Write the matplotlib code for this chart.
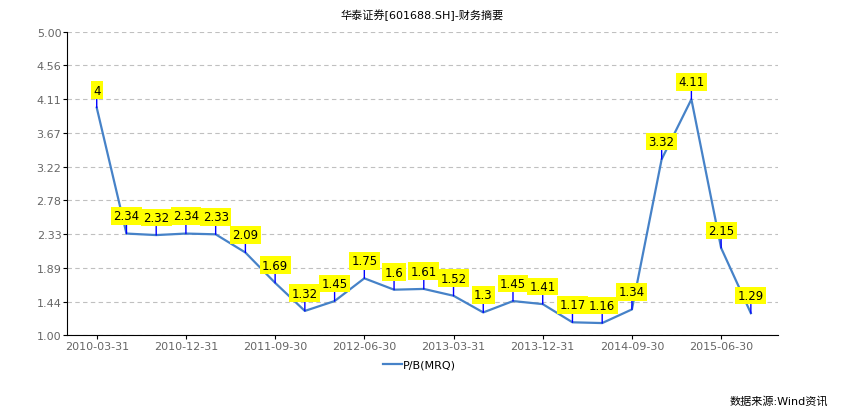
import numpy as np
import matplotlib
matplotlib.use("Agg")
import matplotlib.pyplot as plt

plt.rcParams['font.family'] = ['DejaVu Sans', 'Noto Sans CJK SC']

dates = ['2010-03-31', '2010-06-30', '2010-09-30', '2010-12-31',
         '2011-03-31', '2011-06-30', '2011-09-30', '2011-12-31',
         '2012-03-31', '2012-06-30', '2012-09-30', '2012-12-31',
         '2013-03-31', '2013-06-30', '2013-09-30', '2013-12-31',
         '2014-03-31', '2014-06-30', '2014-09-30', '2014-12-31',
         '2015-03-31', '2015-06-30', '2015-09-30']
pb = [4.00, 2.34, 2.32, 2.34, 2.33, 2.09, 1.69, 1.32, 1.45, 1.75, 1.60, 1.61,
      1.52, 1.30, 1.45, 1.41, 1.17, 1.16, 1.34, 3.32, 4.11, 2.15, 1.29]
pb_labels = ['4', '2.34', '2.32', '2.34', '2.33', '2.09', '1.69', '1.32', '1.45',
             '1.75', '1.6', '1.61', '1.52', '1.3', '1.45', '1.41', '1.17', '1.16',
             '1.34', '3.32', '4.11', '2.15', '1.29']
y_ticks = [1.00, 1.44, 1.89, 2.33, 2.78, 3.22, 3.67, 4.11, 4.56, 5.00]

fig = plt.figure(figsize=(8.48, 4.10), dpi=100)
ax = fig.add_axes([0.079, 0.180, 0.838, 0.740])

x = np.arange(len(dates))
ax.plot(x, pb, color='#4682c8', lw=1.6, label='P/B(MRQ)', zorder=3)

# value labels: yellow box with a short blue stem to the point
for i, (v, s) in enumerate(zip(pb, pb_labels)):
    ax.annotate(s, (i, v), xytext=(0, 8), textcoords='offset points',
                ha='center', va='bottom', fontsize=8.5, color='black',
                bbox=dict(boxstyle='square,pad=0.2', fc='#ffff00', ec='none'),
                arrowprops=dict(arrowstyle='-', color='#0000ff', lw=1,
                                shrinkA=0, shrinkB=0),
                zorder=4)

ax.set_xlim(-1, 22.9)
ax.set_ylim(1.0, 5.0)
ax.set_yticks(y_ticks)
ax.set_yticklabels([f'{t:.2f}' for t in y_ticks])
ax.set_xticks(x[::3])
ax.set_xticklabels(dates[::3])
ax.tick_params(labelsize=8, labelcolor='#666666', length=3, pad=1)
ax.yaxis.grid(True, ls=(0, (4, 3)), color='#c0c0c0', lw=0.8)
ax.spines['top'].set_visible(False)
ax.spines['right'].set_visible(False)

ax.set_title('华泰证券[601688.SH]-财务摘要', fontsize=8, pad=10)
fig.legend(loc='upper center', bbox_to_anchor=(0.495, 0.145), frameon=False,
           fontsize=8, handlelength=1.7, handletextpad=0.1)
fig.text(0.976, 0.022, '数据来源:Wind资讯', ha='right', va='center', fontsize=8)

fig.savefig('out.png', dpi=100)
